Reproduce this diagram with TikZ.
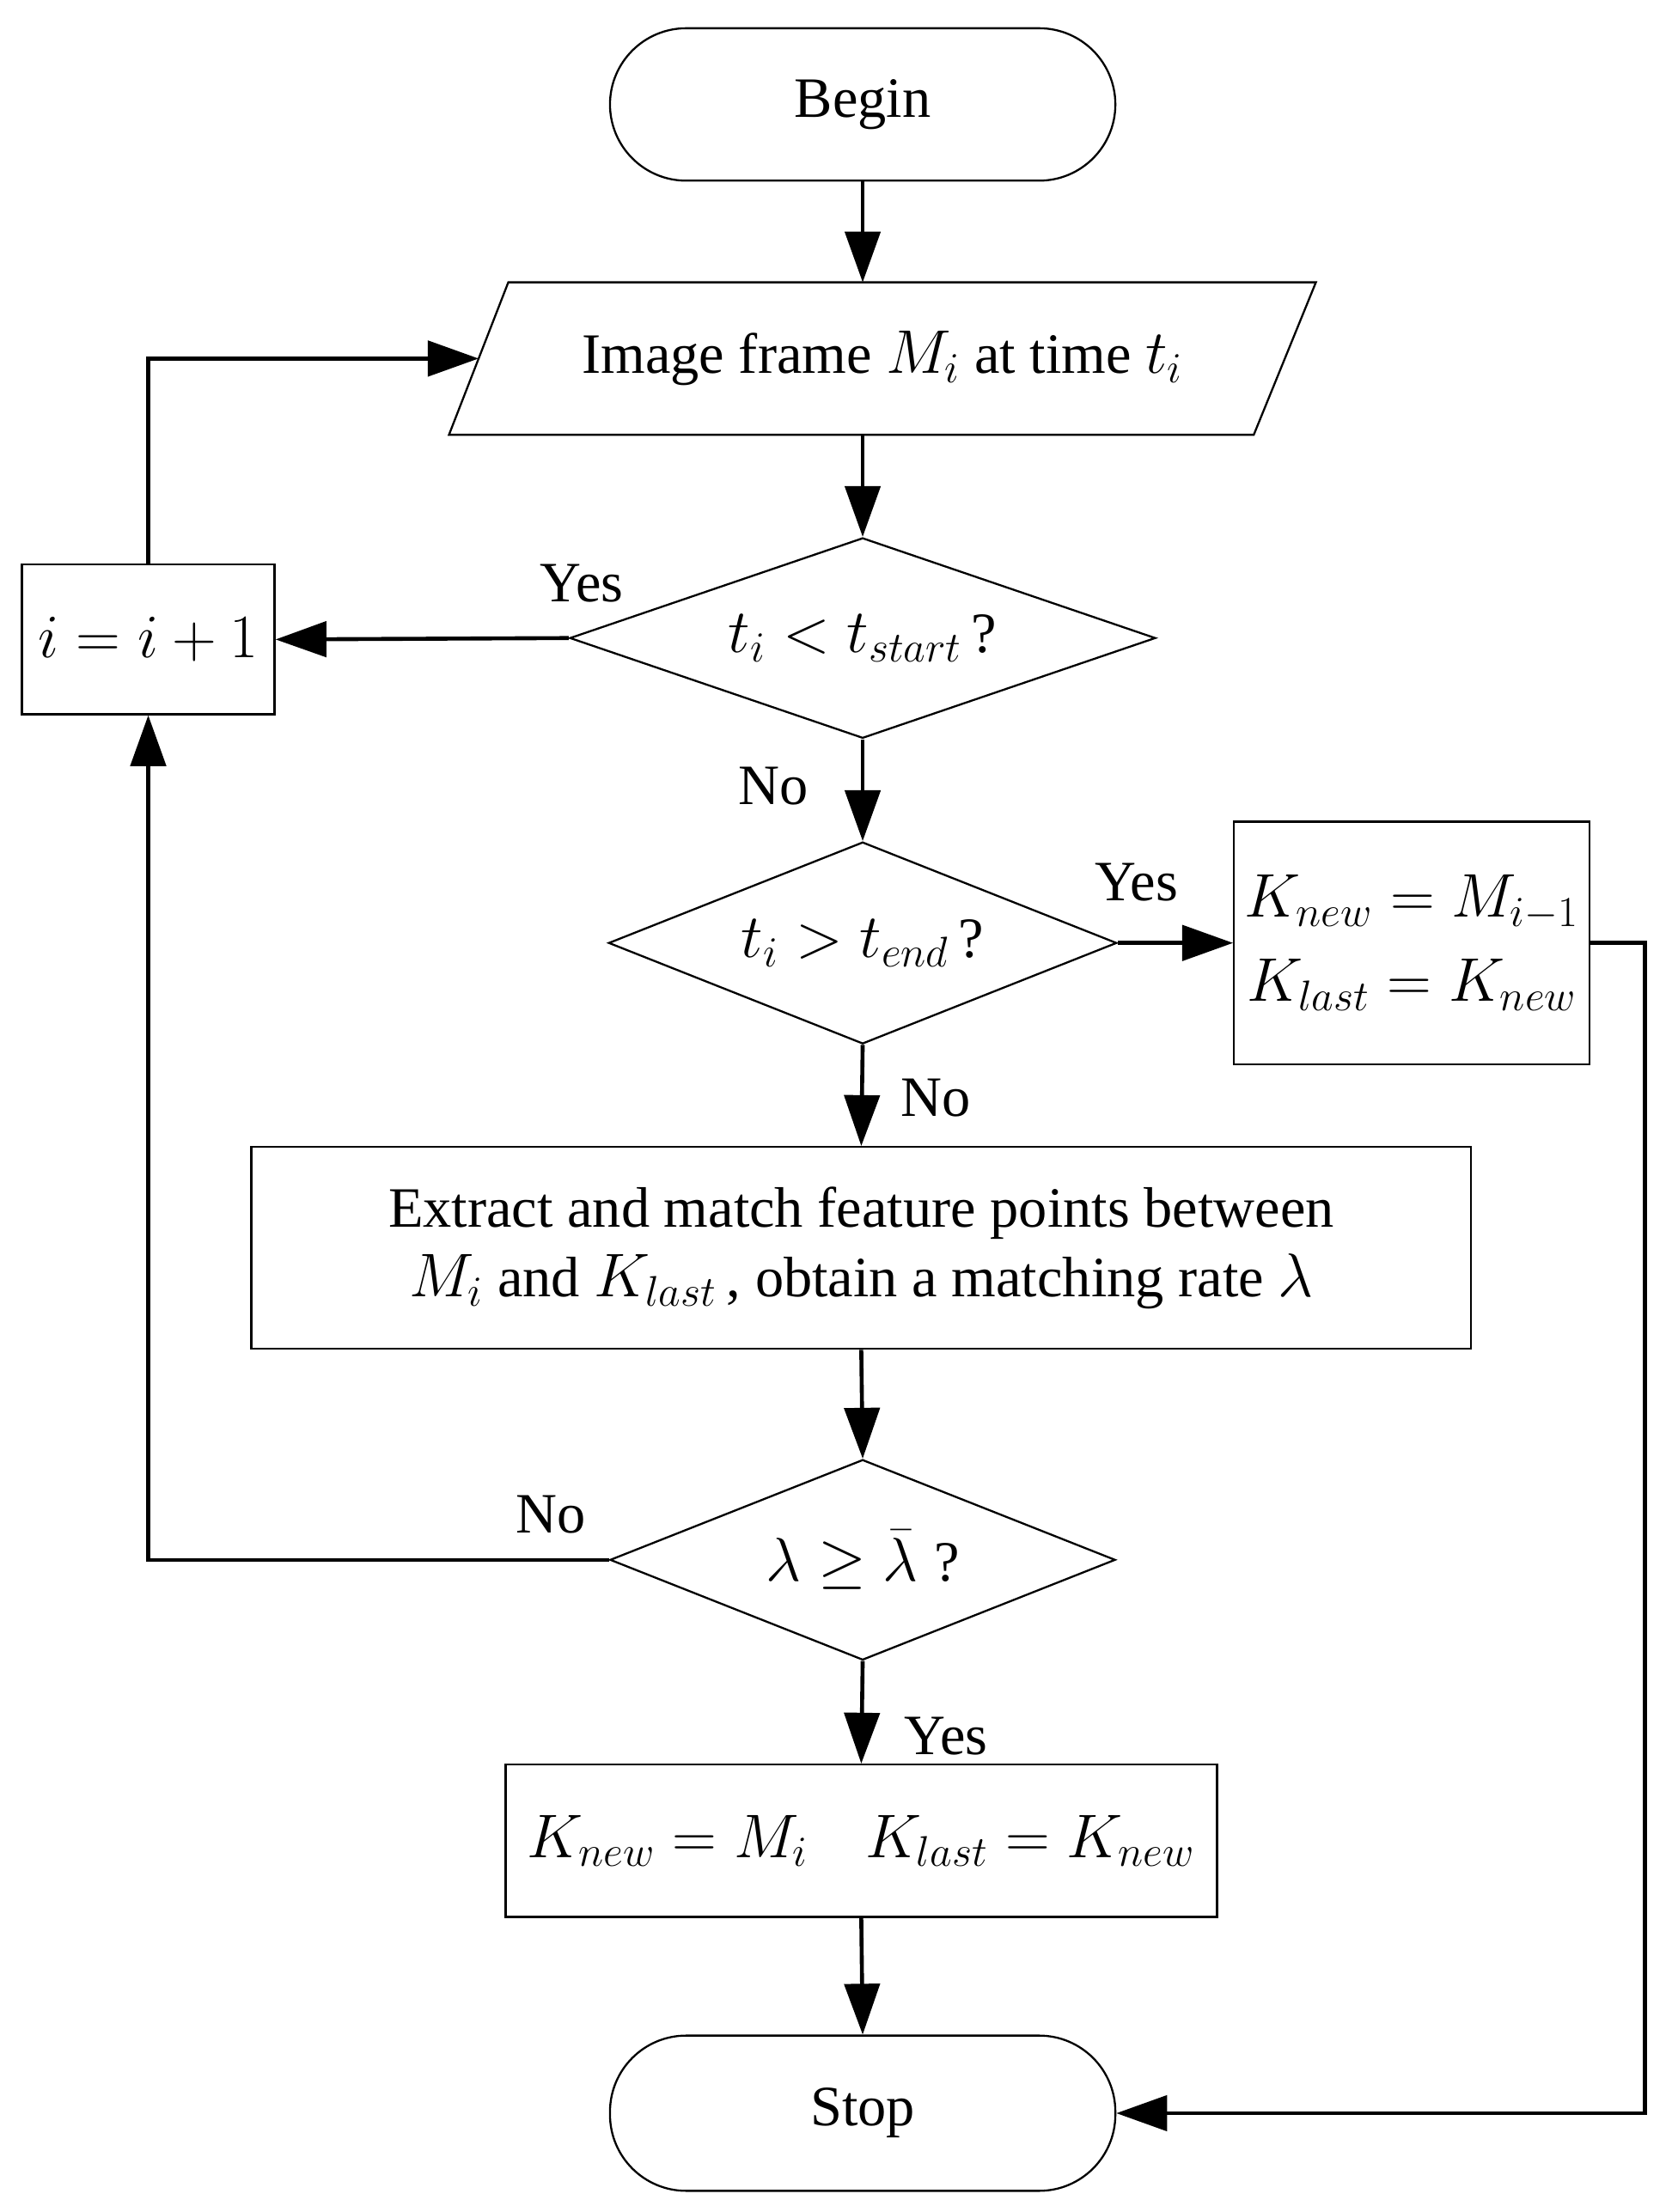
\documentclass[tikz,border=0pt]{standalone}
\usepackage{fontspec}
\setmainfont{Liberation Serif}
\usetikzlibrary{shapes.geometric,arrows.meta}
\begin{document}
\begin{tikzpicture}[x=0.02cm,y=-0.02cm,
  font=\fontsize{23}{28}\selectfont,
  ln/.style={line width=1.6pt},
  ar/.style={ln,-{Triangle[length=0.72cm,width=0.5cm]}},
  box/.style={draw,line width=0.8pt,inner sep=0pt,align=center},
  term/.style={box,rounded corners=1.08cm},
  dia/.style={draw,line width=0.8pt,diamond,inner sep=0pt,aspect=2.9}]
\useasboundingbox (0,0) rectangle (1184,1567);
\node[term,minimum width=7.16cm,minimum height=2.16cm] (begin) at (611,74) {Begin};
\draw[line width=0.8pt] (318,308) -- (360,200) -- (932,200) -- (888,308) -- cycle;
\node[inner sep=0pt,minimum width=11cm,minimum height=2.16cm] (img) at (625,254) {Image frame $M_i$ at time $t_i$};
\coordinate (imgL) at (339,254);
\node[dia,minimum width=8.3cm,minimum height=2.84cm] (d1) at (611,452) {$t_i<t_{start}$\,?};
\node[box,minimum width=3.58cm,minimum height=2.12cm] (inc) at (105,453) {$i=i+1$};
\node[dia,minimum width=7.2cm,minimum height=2.86cm] (d2) at (611,668) {$t_i>t_{end}$\,?};
\node[box,minimum width=5.04cm,minimum height=3.44cm] (kb) at (1000,668) {$K_{new}=M_{i-1}$\\[6pt]$K_{last}=K_{new}$};
\node[box,minimum width=17.28cm,minimum height=2.86cm] (ext) at (610,884) {Extract and match feature points between\\$M_i$ and $K_{last}$\,, obtain a matching rate $\lambda$};
\node[dia,minimum width=7.16cm,minimum height=2.84cm] (d3) at (611,1105) {$\lambda\geq\bar{\lambda}$\;?};
\node[box,minimum width=10.08cm,minimum height=2.16cm] (kn) at (610,1304) {$K_{new}=M_i\quad K_{last}=K_{new}$};
\node[term,minimum width=7.16cm,minimum height=2.2cm] (stop) at (611,1497) {Stop};
\draw[ar] (begin.south) -- (611,200);
\draw[ar] (611,308) -- (d1.north);
\draw[ar] (d1.west) -- (inc.east);
\draw[ar] (inc.north) |- (imgL);
\draw[ar] (d1.south) -- (d2.north);
\draw[ar] (d2.east) -- (kb.west);
\draw[ar] (d2.south) -- (ext.north);
\draw[ar] (ext.south) -- (d3.north);
\draw[ar] (d3.west) -| (inc.south);
\draw[ar] (d3.south) -- (kn.north);
\draw[ar] (kn.south) -- (stop.north);
\coordinate (rc) at (1165,668);
\draw[ar] (kb.east) -- (rc) |- (stop.east);
\node (y1) at (412,413) {Yes};
\node (n1) at (548,557) {No};
\node (y2) at (805,625) {Yes};
\node (n2) at (663,778) {No};
\node (n3) at (390,1073) {No};
\node (y3) at (670,1230) {Yes};
\end{tikzpicture}
\end{document}
